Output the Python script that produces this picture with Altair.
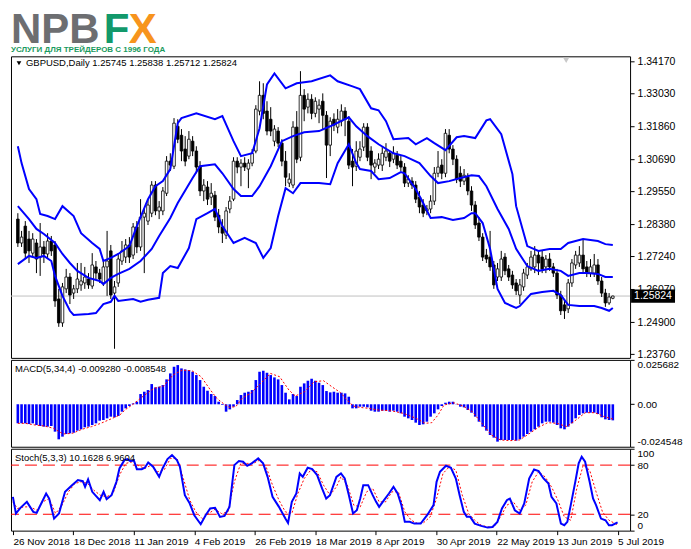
import altair as alt
import pandas as pd

W = 620
H_LOGO = 45
H_MAIN = 302
H_MACD = 87
H_STOCH = 82
FONT = "Liberation Sans"
BLUE = "#0000ff"
RED = "#ff0000"

# ---------------- candles (GBPUSD daily) ----------------
bar_open = [1.2856,1.2771,1.2831,1.2785,1.2735,1.2771,1.2721,1.2757,1.2732,1.2778,
 1.2764,1.2572,1.2487,1.2608,1.2650,1.2593,1.2608,1.2622,1.2629,1.2643,
 1.2618,1.2686,1.2664,1.2629,1.2686,1.2743,1.2593,1.2629,1.2707,1.2721,
 1.2764,1.2728,1.2828,1.2757,1.2863,1.2849,1.2877,1.2977,1.2885,1.2885,
 1.2948,1.3062,1.3044,1.3186,1.3154,1.3105,1.3080,1.3133,1.3098,1.3044,
 1.2956,1.2970,1.2934,1.2941,1.2870,1.2828,1.2799,1.2892,1.2927,1.3062,
 1.3041,1.3055,1.3034,1.3055,1.3098,1.3240,1.3296,1.3240,1.3211,1.3133,
 1.3169,1.3126,1.3062,1.2984,1.2977,1.3183,1.3076,1.3296,1.3254,1.3282,
 1.3232,1.3247,1.3275,1.3225,1.3119,1.3211,1.3183,1.3204,1.3240,1.3204,
 1.3062,1.3044,1.3076,1.3112,1.3183,1.3098,1.3041,1.3048,1.3048,1.3076,
 1.3090,1.3069,1.3083,1.3062,1.3041,1.2984,1.2991,1.2977,1.2934,1.2906,
 1.2885,1.2892,1.2920,1.3019,1.3048,1.3019,1.3154,1.3105,1.3069,1.3019,
 1.2991,1.3005,1.2956,1.2906,1.2842,1.2792,1.2728,1.2721,1.2693,1.2650,
 1.2650,1.2721,1.2679,1.2657,1.2629,1.2586,1.2615,1.2657,1.2679,1.2686,
 1.2728,1.2721,1.2686,1.2714,1.2686,1.2664,1.2586,1.2551,1.2537,1.2629,
 1.2693,1.2700,1.2728,1.2686,1.2664,1.2664,1.2693,1.2636,1.2593,1.2558,
 1.25745]
bar_high = [1.2877,1.2814,1.2849,1.2814,1.2806,1.2785,1.2842,1.2778,1.2806,1.2796,
 1.2778,1.2608,1.2629,1.2679,1.2664,1.2622,1.2700,1.2700,1.2686,1.2664,
 1.2735,1.2707,1.2679,1.2714,1.2814,1.2764,1.2636,1.2735,1.2778,1.2785,
 1.2792,1.2842,1.2849,1.2927,1.2892,1.2927,1.2991,1.2991,1.2920,1.2970,
 1.3080,1.3090,1.3215,1.3211,1.3176,1.3151,1.3169,1.3151,1.3115,1.3062,
 1.2998,1.2991,1.2984,1.2956,1.2892,1.2856,1.2899,1.2938,1.3076,1.3076,
 1.3069,1.3076,1.3069,1.3105,1.3261,1.3346,1.3339,1.3275,1.3254,1.3190,
 1.3183,1.3140,1.3098,1.3019,1.3204,1.3240,1.3382,1.3318,1.3303,1.3300,
 1.3289,1.3282,1.3303,1.3240,1.3218,1.3232,1.3247,1.3264,1.3254,1.3222,
 1.3105,1.3133,1.3133,1.3197,1.3197,1.3115,1.3069,1.3090,1.3112,1.3126,
 1.3098,1.3115,1.3098,1.3080,1.3055,1.3012,1.3005,1.2991,1.2956,1.2927,
 1.2906,1.2941,1.3041,1.3098,1.3069,1.3176,1.3176,1.3119,1.3083,1.3044,
 1.3034,1.3019,1.2973,1.2920,1.2863,1.2806,1.2750,1.2814,1.2707,1.2700,
 1.2743,1.2735,1.2693,1.2672,1.2643,1.2643,1.2679,1.2700,1.2743,1.2760,
 1.2743,1.2743,1.2728,1.2735,1.2700,1.2679,1.2601,1.2572,1.2643,1.2714,
 1.2743,1.2760,1.2785,1.2707,1.2714,1.2732,1.2714,1.2650,1.2608,1.2593,
 1.25838]
bar_low = [1.2757,1.2757,1.2714,1.2700,1.2721,1.2664,1.2654,1.2700,1.2714,1.2725,
 1.2544,1.2473,1.2473,1.2593,1.2554,1.2572,1.2593,1.2601,1.2608,1.2608,
 1.2608,1.2643,1.2629,1.2618,1.2583,1.2572,1.2395,1.2615,1.2693,1.2700,
 1.2700,1.2714,1.2735,1.2743,1.2664,1.2835,1.2863,1.2870,1.2856,1.2870,
 1.2938,1.3027,1.3034,1.3126,1.3062,1.3044,1.3069,1.3080,1.3019,1.2938,
 1.2920,1.2906,1.2906,1.2849,1.2806,1.2771,1.2785,1.2877,1.2920,1.3019,
 1.2973,1.3027,1.2966,1.3044,1.3090,1.3225,1.3211,1.3154,1.3151,1.3115,
 1.3112,1.3044,1.2973,1.2970,1.2966,1.3055,1.3062,1.3204,1.3232,1.3211,
 1.3218,1.3197,1.3176,1.3002,1.3080,1.3169,1.3161,1.3186,1.3151,1.3034,
 1.2973,1.3027,1.3062,1.3098,1.3062,1.2998,1.3019,1.3034,1.3027,1.3062,
 1.3041,1.3055,1.3034,1.3027,1.2970,1.2970,1.2963,1.2913,1.2877,1.2863,
 1.2870,1.2877,1.2906,1.3005,1.2998,1.3005,1.3090,1.3048,1.2984,1.2970,
 1.2977,1.2941,1.2885,1.2821,1.2778,1.2707,1.2700,1.2672,1.2608,1.2636,
 1.2636,1.2657,1.2636,1.2608,1.2586,1.2554,1.2601,1.2643,1.2672,1.2664,
 1.2657,1.2664,1.2664,1.2672,1.2650,1.2572,1.2515,1.2501,1.2522,1.2615,
 1.2679,1.2686,1.2664,1.2650,1.2650,1.2650,1.2622,1.2579,1.2544,1.2551,
 1.25712]
bar_close = [1.2771,1.2792,1.2735,1.2743,1.2785,1.2714,1.2757,1.2732,1.2778,1.2743,
 1.2565,1.2487,1.2615,1.2650,1.2586,1.2608,1.2643,1.2636,1.2650,1.2622,
 1.2693,1.2664,1.2643,1.2686,1.2707,1.2586,1.2615,1.2714,1.2743,1.2764,
 1.2721,1.2828,1.2757,1.2863,1.2877,1.2906,1.2977,1.2885,1.2899,1.2956,
 1.3062,1.3048,1.3197,1.3140,1.3098,1.3062,1.3140,1.3098,1.3041,1.2956,
 1.2977,1.2927,1.2948,1.2863,1.2828,1.2806,1.2885,1.2920,1.3062,1.3041,
 1.3055,1.3041,1.3055,1.3090,1.3247,1.3296,1.3232,1.3169,1.3169,1.3176,
 1.3126,1.3062,1.3005,1.2998,1.3183,1.3069,1.3296,1.3247,1.3282,1.3232,
 1.3275,1.3261,1.3225,1.3119,1.3204,1.3190,1.3211,1.3240,1.3211,1.3048,
 1.3041,1.3098,1.3105,1.3183,1.3076,1.3048,1.3055,1.3069,1.3090,1.3098,
 1.3062,1.3090,1.3048,1.3041,1.2984,1.2998,1.2977,1.2927,1.2899,1.2877,
 1.2892,1.2920,1.3019,1.3041,1.3019,1.3161,1.3105,1.3069,1.2998,1.2991,
 1.3012,1.2956,1.2906,1.2835,1.2792,1.2721,1.2714,1.2686,1.2622,1.2679,
 1.2714,1.2672,1.2650,1.2622,1.2601,1.2622,1.2664,1.2686,1.2721,1.2728,
 1.2700,1.2679,1.2714,1.2686,1.2664,1.2586,1.2530,1.2530,1.2629,1.2700,
 1.2728,1.2728,1.2679,1.2664,1.2686,1.2693,1.2636,1.2593,1.2558,1.2579,
 1.25824]

# ---------------- Bollinger bands ----------------
bb_upper_idx = [0,1,3,5,6,8,10,12,15,17,20,22,23,25,27,30,32,35,37,39,41,43,44,48,53,55,58,60,63,65,
 67,69,72,75,79,84,86,90,92,95,97,99,101,105,107,110,112,115,118,120,123,126,127,130,133,134,137,140,
 143,146,148,152,156,158,160]
bb_upper_val = [1.3115,1.3055,1.2963,1.2927,1.2874,1.2867,1.2856,1.2902,1.2867,1.2806,1.2771,1.2750,
 1.2707,1.2718,1.2732,1.2760,1.2831,1.2927,1.2973,1.2991,1.3034,1.3197,1.3215,1.3232,1.3211,1.3222,
 1.3133,1.3080,1.3090,1.3179,1.3335,1.3374,1.3321,1.3339,1.3346,1.3367,1.3346,1.3328,1.3318,1.3250,
 1.3243,1.3204,1.3140,1.3144,1.3122,1.3144,1.3126,1.3101,1.3147,1.3151,1.3144,1.3207,1.3211,1.3158,
 1.3016,1.2902,1.2760,1.2743,1.2750,1.2750,1.2771,1.2785,1.2778,1.2767,1.2764]
bb_mid_idx = [0,3,5,7,10,12,14,16,19,22,23,25,27,30,33,36,38,41,43,47,49,53,55,58,60,63,65,68,71,74,
 77,81,84,89,91,94,97,101,104,108,111,113,116,119,122,124,126,129,132,134,137,140,143,146,148,151,153,
 156,158,160]
bb_mid_val = [1.2902,1.2856,1.2821,1.2803,1.2771,1.2732,1.2700,1.2672,1.2647,1.2636,1.2625,1.2647,
 1.2661,1.2679,1.2707,1.2750,1.2796,1.2860,1.2913,1.3002,1.3044,1.3051,1.3019,1.2963,1.2938,1.2938,
 1.2973,1.3044,1.3133,1.3151,1.3165,1.3169,1.3186,1.3218,1.3186,1.3151,1.3122,1.3090,1.3080,1.3055,
 1.3009,1.2984,1.2991,1.3002,1.3012,1.3009,1.2973,1.2892,1.2821,1.2750,1.2689,1.2672,1.2679,1.2672,
 1.2654,1.2664,1.2664,1.2661,1.2650,1.2650]
bb_low_idx = [0,3,5,7,9,10,12,14,15,19,21,23,25,26,27,31,33,35,38,39,41,43,46,48,51,53,55,58,61,64,
 66,68,70,72,74,76,81,84,86,89,91,92,95,97,100,103,104,107,109,111,114,117,120,122,123,125,127,129,131,
 134,135,138,141,144,146,148,151,155,157,159,160]
bb_low_val = [1.2696,1.2725,1.2718,1.2725,1.2707,1.2654,1.2583,1.2530,1.2515,1.2519,1.2522,1.2554,
 1.2562,1.2583,1.2565,1.2572,1.2562,1.2569,1.2576,1.2664,1.2689,1.2682,1.2753,1.2856,1.2877,1.2892,
 1.2831,1.2771,1.2789,1.2771,1.2718,1.2753,1.2867,1.2966,1.2948,1.2984,1.2984,1.2980,1.3055,1.3122,
 1.3055,1.3034,1.3027,1.2998,1.3002,1.3023,1.3019,1.2963,1.2913,1.2860,1.2863,1.2853,1.2860,1.2877,
 1.2877,1.2842,1.2750,1.2608,1.2558,1.2540,1.2547,1.2590,1.2597,1.2601,1.2586,1.2551,1.2547,1.2547,
 1.2540,1.2530,1.2540]

# ---------------- MACD(5,34,4) ----------------
macd_hist = [-0.01101,-0.01101,-0.01101,-0.01139,-0.01101,-0.01197,-0.01255,-0.01293,-0.01293,-0.01255,
 -0.01582,-0.02025,-0.01871,-0.01717,-0.01678,-0.01640,-0.01524,-0.01447,-0.01332,-0.01293,
 -0.01197,-0.01101,-0.00947,-0.00908,-0.00812,-0.00716,-0.00754,-0.00677,-0.00427,-0.00235,
 -0.00100,0.00054,0.00150,0.00593,0.00727,0.00824,0.01170,0.00978,0.01016,0.01112,
 0.01440,0.01786,0.02171,0.02267,0.02075,0.02017,0.01978,0.01882,0.01690,0.01401,
 0.01016,0.00785,0.00593,0.00477,0.00150,-0.00042,-0.00427,-0.00293,-0.00139,0.00246,
 0.00535,0.00670,0.00727,0.00824,0.01401,0.01882,0.01940,0.01824,0.01690,0.01555,
 0.01440,0.01112,0.00670,0.00285,0.00593,0.00477,0.01016,0.01209,0.01363,0.01478,
 0.01363,0.01247,0.01112,0.00766,0.00689,0.00727,0.00670,0.00670,
 0.00631,0.00439,-0.00235,-0.00235,-0.00139,-0.00139,-0.00177,-0.00370,-0.00427,-0.00427,
 -0.00370,-0.00370,-0.00427,-0.00370,-0.00427,-0.00523,-0.00716,-0.00812,-0.00908,-0.01062,
 -0.01197,-0.01158,-0.01005,-0.00716,-0.00523,-0.00293,-0.00100,0.00092,0.00150,0.00150,
 0.00015,-0.00139,-0.00177,-0.00331,-0.00485,-0.00716,-0.01005,-0.01293,-0.01524,-0.01775,
 -0.01928,-0.02159,-0.02063,-0.02063,-0.02063,-0.02063,-0.02102,-0.02025,-0.01871,-0.01717,
 -0.01582,-0.01447,-0.01293,-0.01101,-0.01005,-0.01005,-0.01062,-0.01197,-0.01390,-0.01447,
 -0.01293,-0.01101,-0.00812,-0.00620,-0.00523,-0.00485,-0.00485,-0.00485,-0.00562,-0.00754,
 -0.00870,-0.00908,-0.00928]
macd_sig_idx = [0,2.0,4.6,7.1,9.6,12.2,14.7,17.2,19.8,22.3,24.8,27.4,29.0,30.7,32.4,34.1,36.6,39.2,41.7,
 44.2,46.8,49.3,51.8,53.5,55.2,56.9,58.6,60.3,62.8,65.3,67.9,70.4,72.9,74.6,77.1,79.7,82.2,84.7,86.8,
 88.5,90.2,91.9,94.4,96.9,100.3,103.7,107.1,109.6,111.3,113.0,114.6,117.2,119.7,122.2,124.8,127.3,
 129.8,132.4,134.9,137.4,140.0,142.5,145.0,147.6,150.1,152.6,155.2,157.7,160]
macd_sig_val = [-0.01101,-0.01101,-0.01197,-0.01255,-0.01390,-0.01717,-0.01678,-0.01447,-0.01293,-0.01101,
 -0.00870,-0.00620,-0.00293,-0.00042,0.00246,0.00535,0.00920,0.01055,0.01690,0.01978,
 0.01940,0.01594,0.00824,0.00343,0.00054,-0.00177,-0.00139,0.00343,0.00670,0.01209,
 0.01786,0.01594,0.00824,0.00477,0.00727,0.01305,0.01363,0.00978,0.00670,0.00246,
 -0.00100,-0.00177,-0.00235,-0.00331,-0.00370,-0.00523,-0.00812,-0.01101,-0.01062,-0.00620,
 -0.00042,0.00092,-0.00100,-0.00427,-0.01101,-0.01775,-0.02063,-0.02102,-0.02063,-0.01717,
 -0.01332,-0.01062,-0.01101,-0.01293,-0.00908,-0.00485,-0.00485,-0.00716,-0.008548]
macd_ticks = [0.025682, 0.0, -0.024548]

# ---------------- Stochastic(5,3,3) ----------------
stoch_main_idx = [0,0.8,2.0,3.7,5.4,6.3,7.5,8.8,9.6,10.9,12.2,13.8,15.5,17.2,18.5,19.1,19.9,21.0,23.0,
 24.0,24.8,26.1,27.4,28.2,29.5,30.3,31.1,32.0,32.8,34.1,34.9,35.8,37.1,38.7,39.6,40.9,42.1,43.4,44.2,
 45.5,46.8,48.0,49.7,51.0,52.2,53.5,54.8,56.0,57.3,58.6,59.8,60.9,62.0,63.2,64.9,66.2,67.4,68.7,70.4,
 72.1,72.8,73.8,75.0,75.9,76.7,78.0,79.2,80.5,81.8,82.9,83.9,85.6,86.8,
 87.8,88.9,90.0,91.0,91.9,92.7,94.0,95.2,96.1,96.9,98.2,99.5,100.7,101.8,102.8,103.7,105.0,106.2,
 107.9,109.6,111.3,112.1,113.0,114.6,115.9,117.2,118.2,119.3,120.1,121.0,122.2,123.9,125.6,126.9,
 128.2,129.4,130.7,131.5,132.8,134.1,135.3,136.6,137.9,139.1,140.4,141.7,142.5,143.8,145.0,145.9,
 146.7,147.6,148.8,149.7,150.5,151.4,152.6,153.5,154.3,155.6,156.8,157.7,158.5,160]
stoch_main_val = [41.3,20.9,27.8,35.1,22.9,21.7,33.1,45.3,39.2,14.7,20.9,47.4,54.7,61.7,60.4,53.5,62.5,
 47.4,37.2,47.4,38.4,43.3,59.6,75.9,86.1,87.4,84.9,86.1,75.1,75.1,76.8,83.3,78.0,65.7,75.9,87.4,92.3,
 86.1,78.0,43.3,33.1,18.8,7.8,18.8,27.0,27.8,16.8,18.0,29.0,80.0,84.9,84.1,79.2,82.1,88.2,82.1,65.7,
 41.3,29.0,14.7,9.4,35.1,45.3,69.8,65.7,76.8,75.1,67.8,51.5,39.2,43.3,65.7,69.8,
 63.7,43.3,20.9,24.9,39.2,55.5,55.5,43.3,35.1,29.0,37.2,45.3,53.5,45.3,31.0,10.7,10.7,8.6,8.6,18.8,
 31.1,59.6,71.9,79.2,76.8,63.7,43.3,22.9,16.8,16.8,8.6,5.8,3.7,4.5,10.7,27.0,37.2,39.2,24.9,20.9,
 33.1,63.7,74.7,72.7,63.7,57.6,41.3,33.1,8.6,6.6,10.7,31.1,59.6,82.1,90.2,84.1,59.6,39.2,31.1,14.7,
 12.7,6.6,6.6,10.1628]
stoch_sig_idx = [0,1.2,2.9,4.6,6.3,7.9,9.6,11.3,13.0,14.7,16.4,18.1,19.8,21.4,23.1,24.8,26.5,28.2,29.9,
 31.6,33.3,34.9,36.6,38.3,40.0,41.7,43.4,45.1,46.8,48.4,50.1,51.8,53.5,55.2,56.9,58.6,60.3,62.0,63.6,
 65.3,67.0,68.7,70.4,72.1,73.8,75.4,77.1,78.8,80.5,82.2,83.9,85.6,86.8,
 88.5,90.2,91.9,93.6,95.2,96.9,98.6,100.3,102.0,103.7,105.4,107.1,108.7,110.4,112.1,113.8,115.5,
 117.2,118.9,120.6,122.2,123.9,125.6,127.3,129.0,130.7,132.4,134.1,135.7,137.4,139.1,140.8,142.5,
 144.2,145.9,147.6,149.2,150.9,152.6,154.3,156.0,157.7,160]
stoch_sig_val = [35.1,27.0,29.0,29.0,24.9,35.1,39.2,20.9,31.1,47.4,57.6,59.6,57.6,49.4,43.3,41.3,45.3,
 67.8,82.1,84.1,79.2,75.9,80.0,71.9,73.9,88.2,88.2,63.7,37.2,22.9,14.7,20.9,26.2,20.9,22.9,59.6,82.1,
 82.1,82.1,86.1,78.0,55.5,37.2,22.9,20.9,45.3,63.7,73.9,71.9,55.5,43.3,53.5,65.7,
 55.5,31.1,29.0,47.4,51.5,35.1,35.1,47.4,47.4,22.9,12.7,8.6,9.8,16.8,39.2,69.8,78.0,73.9,43.3,20.9,
 12.7,6.6,4.5,4.5,16.8,31.1,35.1,24.9,31.1,59.6,71.9,65.7,53.5,37.2,16.8,12.7,51.5,80.0,73.9,47.4,
 22.9,12.7,6.9604]
stoch_levels = [80, 20]
stoch_ticks = [100, 80, 20, 0]

# ---------------- axes text ----------------
price_ticks = [1.34170, 1.33030, 1.31860, 1.30690, 1.29550, 1.28380, 1.27240, 1.26070, 1.24900, 1.23760]
date_tick_idx = [0, 16, 32, 48, 64, 80, 96, 112, 128, 144, 160]
date_labels = ["26 Nov 2018", "18 Dec 2018", "11 Jan 2019", "4 Feb 2019", "26 Feb 2019", "18 Mar 2019",
               "8 Apr 2019", "30 Apr 2019", "22 May 2019", "13 Jun 2019", "5 Jul 2019"]
header_text = "GBPUSD,Daily  1.25745 1.25838 1.25712 1.25824"
macd_text = "MACD(5,34,4) -0.009280 -0.008548"
stoch_text = "Stoch(5,3,3) 10.1628 6.9604"
logo_sub = "УСЛУГИ ДЛЯ ТРЕЙДЕРОВ С 1996 ГОДА"

# ---------------- build ----------------
one = pd.DataFrame({"k": [0]})


def txt(text, x, y, size=10, color="black", weight="normal", font=FONT, baseline="middle"):
    return alt.Chart(one).mark_text(align="left", baseline=baseline, fontSize=size, font=font,
                                    fontWeight=weight, color=color).encode(
        x=alt.value(x), y=alt.value(y), text=alt.value(text))


logo = alt.layer(
    txt("NPB", 0, 34, 42, "#6d6e71", "bold", baseline="alphabetic"),
    txt("F", 93, 34, 42, "#12996b", "bold", baseline="alphabetic"),
    txt("X", 118, 34, 42, "#f7941d", "bold", baseline="alphabetic"),
    txt(logo_sub, 0, 43, 8, "#1a9a5e", "bold", font="Liberation Sans Narrow, Liberation Sans",
        baseline="alphabetic"),
).properties(width=W, height=H_LOGO, view=alt.ViewBackground(stroke="transparent"))

idx = list(range(len(bar_close)))
cdf = pd.DataFrame({"i": idx, "o": bar_open, "h": bar_high, "l": bar_low, "c": bar_close})
xs = alt.Scale(domain=[-0.5, 163.3], nice=False, zero=False)
ps = alt.Scale(domain=[1.23626, 1.34347], nice=False, zero=False)
pax = alt.Axis(orient="right", values=price_ticks, format=".5f", title=None, tickSize=4,
               labelPadding=3, labelOverlap=False, labelFlush=False, labelFontSize=10.5)


def xn():
    return alt.X("i:Q", scale=xs, axis=None)


def py(f):
    return alt.Y(f + ":Q", scale=ps, axis=pax)


last_df = pd.DataFrame({"p": [bar_close[-1]]})
cur_rule = alt.Chart(last_df).mark_rule(color="#c0c0c0", strokeWidth=1).encode(y=py("p"))
wicks = alt.Chart(cdf).mark_rule(color="black", strokeWidth=1).encode(x=xn(), y=py("l"), y2="h:Q")
bodies = alt.Chart(cdf).mark_bar(size=2.6, stroke="black", strokeWidth=0.8).encode(
    x=xn(), y=py("o"), y2="c:Q",
    fill=alt.condition("datum.c >= datum.o", alt.value("white"), alt.value("black")))


def band(ix, vals):
    return alt.Chart(pd.DataFrame({"i": ix, "v": vals})).mark_line(color=BLUE, strokeWidth=2).encode(
        x=xn(), y=py("v"))


box = alt.Chart(last_df).mark_point(shape="M-1,-0.3L1,-0.3L1,0.3L-1,0.3Z", filled=True, color="black",
                                    opacity=1, size=1936).encode(x=alt.value(W + 23), y=py("p"))
box_txt = alt.Chart(last_df).mark_text(align="left", baseline="middle", color="white", fontSize=10.5,
                                       font=FONT).encode(
    x=alt.value(W + 4), y=py("p"), text=alt.Text("p:Q", format=".5f"))
tri = alt.Chart(one).mark_point(shape="triangle-down", filled=True, color="black", size=22,
                                opacity=1).encode(x=alt.value(8), y=alt.value(7))
shift_mark = alt.Chart(one).mark_point(shape="triangle-down", filled=True, color="#c8c8c8", size=40,
                                       opacity=1).encode(x=alt.value(round(W * 580 / 647)), y=alt.value(4))

main = alt.layer(cur_rule, wicks, bodies,
                 band(bb_upper_idx, bb_upper_val), band(bb_mid_idx, bb_mid_val), band(bb_low_idx, bb_low_val),
                 box, box_txt, tri, txt(header_text, 15, 7, 9.5), shift_mark
                 ).properties(width=W, height=H_MAIN)

ms = alt.Scale(domain=[-0.024548, 0.025682], nice=False, zero=False)
max_ = alt.Axis(orient="right", values=macd_ticks, title=None, tickSize=4, labelPadding=3,
                labelFlush=True, labelOverlap=False,
                labelExpr="datum.value == 0 ? '0.00' : (datum.value < 0 ? '-' : '') + format(abs(datum.value), '.6f')")
mdf = pd.DataFrame({"i": idx, "v": macd_hist})
hist = alt.Chart(mdf).mark_bar(size=2.6, color=BLUE).encode(
    x=xn(), y=alt.Y("v:Q", scale=ms, axis=max_), y2=alt.datum(0))
msig = alt.Chart(pd.DataFrame({"i": macd_sig_idx, "v": macd_sig_val})).mark_line(
    color=RED, strokeWidth=1, strokeDash=[2, 2]).encode(x=xn(), y=alt.Y("v:Q", scale=ms, axis=max_))
macd = alt.layer(hist, msig, txt(macd_text, 4, 9, 9.5)).properties(width=W, height=H_MACD)

ss = alt.Scale(domain=[0, 100], nice=False, zero=False)
sax = alt.Axis(orient="right", values=stoch_ticks, format="d", title=None, tickSize=4, labelPadding=3,
               labelFlush=True, labelOverlap=False)
date_expr = ("[" + ",".join("'" + s + "'" for s in date_labels) + "][indexof(["
             + ",".join(str(v) for v in date_tick_idx) + "], datum.value)]")
dax = alt.Axis(values=date_tick_idx, labelExpr=date_expr, labelAlign="left", tickSize=4, labelPadding=2,
               labelOverlap=False, labelFlush=False, title=None)


def xd():
    return alt.X("i:Q", scale=xs, axis=dax)


lv = alt.Chart(pd.DataFrame({"lv": stoch_levels})).mark_rule(color=RED, strokeWidth=1,
                                                             strokeDash=[12, 6]).encode(
    y=alt.Y("lv:Q", scale=ss, axis=sax))
smain = alt.Chart(pd.DataFrame({"i": stoch_main_idx, "v": stoch_main_val})).mark_line(
    color=BLUE, strokeWidth=2).encode(x=xd(), y=alt.Y("v:Q", scale=ss, axis=sax))
ssig = alt.Chart(pd.DataFrame({"i": stoch_sig_idx, "v": stoch_sig_val})).mark_line(
    color=RED, strokeWidth=1, strokeDash=[2, 2]).encode(x=xd(), y=alt.Y("v:Q", scale=ss, axis=sax))
stoch = alt.layer(lv, ssig, smain, txt(stoch_text, 4, 9, 9.5)).properties(width=W, height=H_STOCH)

chart = alt.vconcat(logo, main, macd, stoch, spacing=2, bounds="flush").properties(
    padding=0, background="white"
).configure_view(stroke="black", strokeWidth=1).configure_axis(
    grid=False, domain=False, labelFont=FONT, labelFontSize=10, labelColor="black",
    tickColor="black", tickWidth=1)

chart.save("out.html", embed_options={"renderer": "svg", "actions": False})
